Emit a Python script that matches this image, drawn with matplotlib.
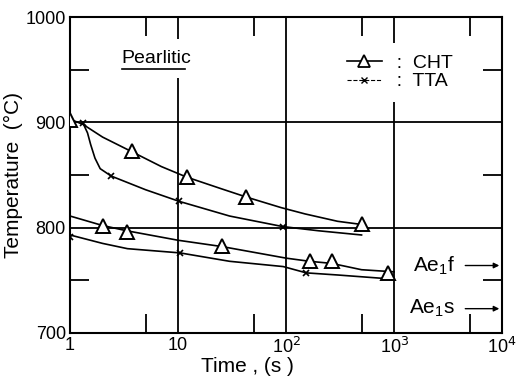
import matplotlib.pyplot as plt
from matplotlib.lines import Line2D
from matplotlib.ticker import FixedLocator, NullFormatter

# measured points
cht_t = [1, 2, 3.35, 3.75, 12, 25.5, 43, 165, 265, 500, 880]
cht_T = [902, 802, 796, 873, 848, 783, 829, 768, 768, 803, 757]
tta_t = [1, 1.32, 2.4, 10.2, 10.4, 93, 154]
tta_T = [791, 899, 849, 825, 776, 801, 757]

# curves drawn through the points
cht_hi_t = [1, 1.32, 2, 3.75, 7, 12, 25, 43, 90, 150, 300, 500]
cht_hi_T = [903, 898, 886, 872, 858, 848, 837, 829, 819, 813, 806, 803]
tta_hi_t = [1.32, 1.45, 1.55, 1.7, 1.9, 2.4, 5, 10.2, 30, 93, 200, 500]
tta_hi_T = [899, 890, 879, 866, 856, 849, 836, 825, 811, 801, 797, 793]
cht_lo_t = [1, 2, 3.35, 10, 25.5, 100, 165, 265, 500, 1000]
cht_lo_T = [811, 802, 797, 788, 782, 771, 768, 766, 760, 758]
tta_lo_t = [1, 2, 3.4, 10.4, 30, 94, 154, 300, 1000]
tta_lo_T = [793, 785, 780, 776, 768, 763, 757, 755, 751]

x_ticks = [1, 10, 100, 1000, 10000]
x_labels = ['1', '10', '10$^2$', '10$^3$', '10$^4$']
y_ticks = [700, 800, 900, 1000]

plt.rcParams['font.family'] = ['Liberation Sans', 'DejaVu Sans']

fig = plt.figure(figsize=(5.23, 3.8), dpi=100)
ax = fig.add_axes([0.134, 0.124, 0.826, 0.831])

kw = dict(color='black', lw=1.2)
ax.plot(cht_hi_t, cht_hi_T, **kw)
ax.plot(tta_hi_t, tta_hi_T, **kw)
ax.plot(cht_lo_t, cht_lo_T, **kw)
ax.plot(tta_lo_t, tta_lo_T, **kw)

ax.plot(cht_t, cht_T, ls='none', marker='^', ms=10, mfc='white',
        mec='black', mew=1.4, zorder=3)
ax.plot(tta_t, tta_T, ls='none', marker='x', ms=5, color='black',
        mew=1.2, zorder=3)

ax.set_xscale('log')
ax.set_xlim(1, 10000)
ax.set_ylim(700, 1000)
ax.set_xticks(x_ticks)
ax.set_xticklabels(x_labels)
ax.set_yticks(y_ticks)
ax.xaxis.set_minor_locator(FixedLocator([5, 50, 500, 5000]))
ax.xaxis.set_minor_formatter(NullFormatter())
ax.yaxis.set_minor_locator(FixedLocator([750, 850, 950]))
ax.tick_params(which='both', direction='in', top=True, right=True,
               labelsize=13, width=1.3)
ax.tick_params(which='major', length=0, pad=3)
ax.tick_params(which='minor', length=14)
ax.grid(True, which='major', color='black', lw=1.3)
for s in ax.spines.values():
    s.set_linewidth(1.5)

ax.set_xlabel('Time , (s )', fontsize=15)
ax.xaxis.set_label_coords(0.41, -0.075)
ax.set_ylabel('Temperature  (°C)', fontsize=15, labelpad=2)

# grid line is broken behind the label in the original
ax.text(3.0, 956, 'Pearlitic', fontsize=14, zorder=4,
        bbox=dict(facecolor='white', edgecolor='none', pad=8))
ax.plot([3.0, 11.5], [951, 951], color='black', lw=1.2, zorder=5)

handles = [
    Line2D([], [], color='black', lw=1.2, marker='^', ms=8, mfc='white',
           mec='black', mew=1.3),
    Line2D([], [], color='black', lw=0.8, ls='--', marker='x', ms=5, mew=1),
]
leg = ax.legend(handles, ['  :  CHT', '  :  TTA'], loc='upper right',
                fontsize=14, handlelength=1.8, handletextpad=0.2,
                labelspacing=0.05, bbox_to_anchor=(0.935, 0.95),
                frameon=True, fancybox=False, framealpha=1,
                facecolor='white', edgecolor='none', borderpad=0.6)

for label, yv in [('Ae$_\\mathregular{1}$f', 764), ('Ae$_\\mathregular{1}$s', 723)]:
    ax.annotate('', xy=(10000, yv), xytext=(4300, yv),
                arrowprops=dict(arrowstyle='-|>', color='black', lw=1,
                                mutation_scale=8))
    ax.text(3700, yv, label, fontsize=15, ha='right', va='center')

fig.savefig('out.png', dpi=100)
